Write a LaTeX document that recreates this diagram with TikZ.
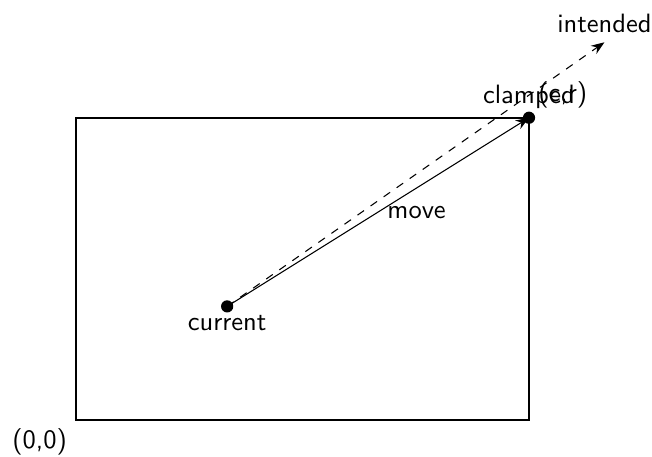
\documentclass[tikz,border=0pt]{standalone}
\usepackage{tikz}
\usetikzlibrary{positioning,arrows.meta}

\begin{document}
\begin{tikzpicture}[font=\sffamily]
  \tikzstyle{tip}=[-{Stealth[length=5pt]}]
  \useasboundingbox (-1.01,-0.49) rectangle (7.63,5.56);
  \draw[thick] (0,0) rectangle (6,4);
  \coordinate (origin) at (0,0);
  \coordinate (current) at (2,1.5);
  \coordinate (clamped) at (6,4);
  \coordinate (intended) at (7,5);
  \node[below left] (originlbl) at (origin) {(0,0)};
  \node[below] (currentlbl) at (current) {current};
  \node[above] (clampedlbl) at (clamped) {clamped};
  \node[above right] (corner) at (clamped) {(c,r)};
  \node[above] (intendedlbl) at (intended) {intended};
  \draw[tip] (current) -- (clamped) node[midway,right]{move};
  \draw[tip,dashed] (current) -- (intended);
  \fill (current) circle (2.3pt);
  \fill (clamped) circle (2.3pt);
\end{tikzpicture}
\end{document}
